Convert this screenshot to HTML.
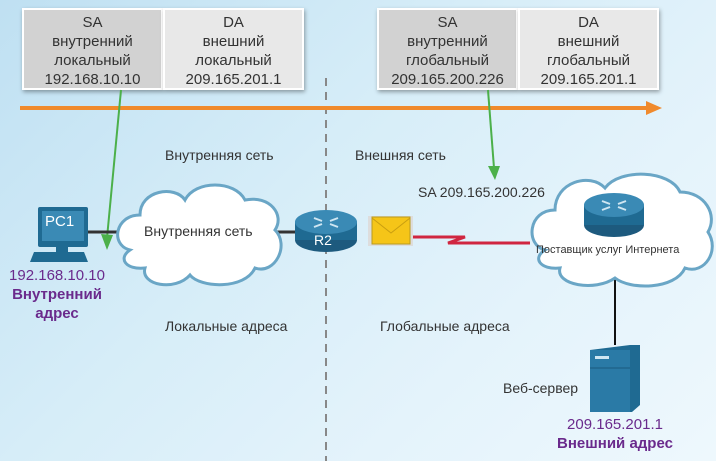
<!DOCTYPE html>
<html><head><meta charset="utf-8"><style>
body{margin:0;width:716px;height:461px;overflow:hidden;font-family:"Liberation Sans","Noto Sans CJK SC",sans-serif;}
.bg{position:absolute;inset:0;background:linear-gradient(135deg,#bfe0f2 0%,#d6edf8 40%,#e4f3fb 70%,#eef8fd 100%);}
.box{position:absolute;top:8px;height:82px;width:141px;text-align:center;font-size:15px;line-height:19px;color:#333;box-shadow:1px 2px 4px rgba(0,0,0,.35);box-sizing:border-box;padding-top:3px;border:2px solid #fff}
.t{position:absolute;font-size:14px;color:#333;white-space:nowrap}
.p{position:absolute;font-size:15px;color:#6a2a8c;text-align:center;line-height:19px}
</style></head><body><div class="bg"></div>
<div class="box" style="left:22px;background:#d2d2d2">SA<br>внутренний<br>локальный<br>192.168.10.10</div>
<div class="box" style="left:163px;background:#e8e8e8">DA<br>внешний<br>локальный<br>209.165.201.1</div>
<div class="box" style="left:377px;background:#d2d2d2">SA<br>внутренний<br>глобальный<br>209.165.200.226</div>
<div class="box" style="left:518px;background:#e8e8e8">DA<br>внешний<br>глобальный<br>209.165.201.1</div>
<svg width="716" height="461" style="position:absolute;left:0;top:0">
<line x1="326" y1="78" x2="326" y2="461" stroke="#888" stroke-width="2" stroke-dasharray="8,6"/>
<line x1="20" y1="108" x2="648" y2="108" stroke="#f08a2c" stroke-width="4"/>
<polygon points="646,101 662,108 646,115" fill="#f08a2c"/>
<line x1="121" y1="90" x2="107" y2="238" stroke="#4cb04a" stroke-width="2"/>
<polygon points="101,234 107,250 113,235" fill="#4cb04a"/>
<line x1="488" y1="90" x2="494" y2="168" stroke="#4cb04a" stroke-width="2"/>
<polygon points="488,166 495,180 500,166" fill="#4cb04a"/>
<line x1="88" y1="232" x2="130" y2="232" stroke="#333" stroke-width="3"/>
<line x1="275" y1="232" x2="300" y2="232" stroke="#333" stroke-width="3"/>
<path d="M412 237 H465 L448 243 H530" stroke="#d02640" stroke-width="3" fill="none"/>
<line x1="615" y1="275" x2="615" y2="345" stroke="#111" stroke-width="2"/>
<g fill="#fff" stroke="#6aa6c6" stroke-width="3">
<path d="M130 250 C110 245 115 215 140 215 C140 190 175 185 185 200 C195 180 235 180 245 200 C270 195 285 215 275 230 C290 245 275 275 255 268 C245 290 200 288 190 275 C175 292 140 285 145 268 C125 270 118 258 130 250Z"/>
<path d="M545 250 C525 245 528 210 555 210 C555 182 590 172 605 188 C620 168 670 170 680 192 C705 192 718 215 708 232 C720 250 705 275 685 268 C675 290 630 290 615 278 C595 292 555 285 560 268 C540 270 532 258 545 250Z"/>
</g>
<g>
<ellipse cx="326" cy="240" rx="31" ry="12" fill="#1d5a7e"/>
<rect x="295" y="222" width="62" height="18" fill="#1f6a92"/>
<ellipse cx="326" cy="222" rx="31" ry="12" fill="#3a8ab5"/>
<path d="M314 218l8 3M338 218l-8 3M314 227l8-3M338 227l-8-3" stroke="#cfe6f2" stroke-width="2"/>
<ellipse cx="614" cy="225" rx="30" ry="12" fill="#1d5a7e"/>
<rect x="584" y="205" width="60" height="20" fill="#1f6a92"/>
<ellipse cx="614" cy="205" rx="30" ry="12" fill="#3a8ab5"/>
<path d="M602 201l8 3M626 201l-8 3M602 210l8-3M626 210l-8-3" stroke="#cfe6f2" stroke-width="2"/>
</g>
<rect x="368" y="216" width="45" height="30" fill="#ddd"/>
<rect x="372" y="217" width="38" height="27" fill="#f5c518" stroke="#b99a20"/>
<path d="M372 218 L391 233 L410 218" stroke="#c99e10" fill="none"/>
<rect x="38" y="207" width="50" height="40" rx="2" fill="#1f6a92"/>
<rect x="42" y="211" width="42" height="30" fill="#3a8ab5"/>
<polygon points="34,252 84,252 88,262 30,262" fill="#1f6a92"/>
<rect x="56" y="246" width="12" height="6" fill="#1f6a92"/>
<polygon points="590,350 630,345 640,345 640,405 632,412 590,412" fill="#1f6a92"/>
<rect x="590" y="350" width="40" height="62" fill="#2a7aa6"/>
<rect x="595" y="356" width="14" height="3" fill="#cfe6f2"/>
<line x1="590" y1="368" x2="630" y2="368" stroke="#1a5a7e"/>
</svg>
<div class="t" style="left:45px;top:213px;color:#fff;font-size:15px">PC1</div>
<div class="t" style="left:314px;top:232px;color:#fff;font-size:14px">R2</div>
<div class="t" style="left:144px;top:223px">Внутренняя сеть</div>
<div class="t" style="left:536px;top:244px;font-size:11px">Поставщик услуг Интернета</div>
<div class="t" style="left:165px;top:147px">Внутренняя сеть</div>
<div class="t" style="left:355px;top:147px">Внешняя сеть</div>
<div class="t" style="left:418px;top:184px">SA 209.165.200.226</div>
<div class="t" style="left:165px;top:318px">Локальные адреса</div>
<div class="t" style="left:380px;top:318px">Глобальные адреса</div>
<div class="t" style="left:503px;top:380px">Веб-сервер</div>
<div class="p" style="left:5px;top:266px;width:104px">192.168.10.10<br><b>Внутренний<br>адрес</b></div>
<div class="p" style="left:550px;top:415px;width:130px;white-space:nowrap">209.165.201.1<br><b>Внешний адрес</b></div>
</body></html>
